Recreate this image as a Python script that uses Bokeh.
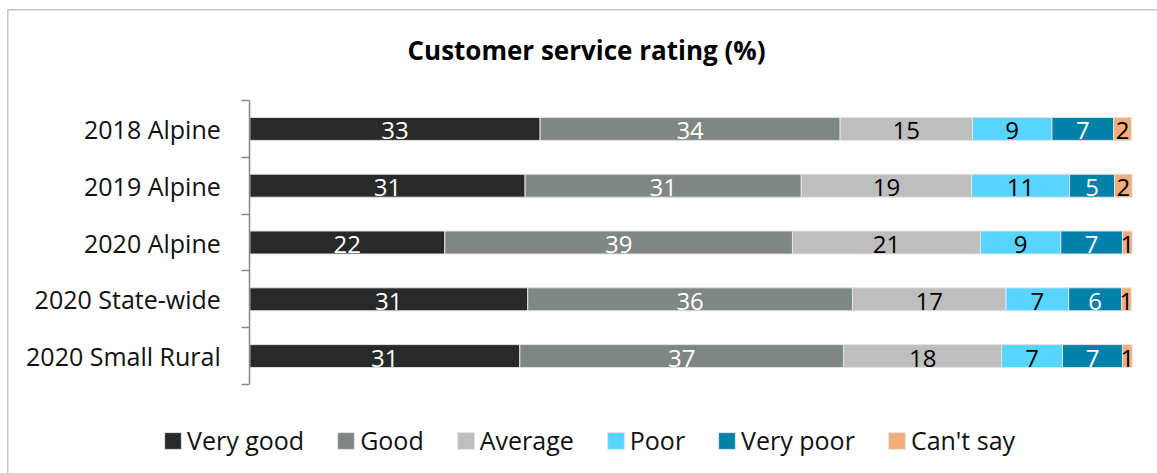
from bokeh.plotting import figure
from bokeh.models import (ColumnDataSource, Range1d, FixedTicker, Legend, LegendItem, Label, Span)
from bokeh.core.properties import value
from bokeh.embed import file_html
from bokeh.resources import INLINE

categories = ["2018 Alpine", "2019 Alpine", "2020 Alpine", "2020 State-wide", "2020 Small Rural"]
series_names = ["Very good", "Good", "Average", "Poor", "Very poor", "Can't say"]

# bar lengths (%) as drawn
very_good = [32.9, 31.2, 22.1, 31.5, 30.6]
good = [34.0, 31.3, 39.4, 36.8, 36.7]
average = [15.0, 19.3, 21.3, 17.4, 17.9]
poor = [9.0, 11.1, 9.1, 7.1, 6.9]
very_poor = [7.0, 5.1, 7.0, 6.0, 6.8]
cant_say = [2.0, 2.0, 1.1, 1.1, 1.1]

# numbers printed on the bars
very_good_lbl = [33, 31, 22, 31, 31]
good_lbl = [34, 31, 39, 36, 37]
average_lbl = [15, 19, 21, 17, 18]
poor_lbl = [9, 11, 9, 7, 7]
very_poor_lbl = [7, 5, 7, 6, 7]
cant_say_lbl = [2, 2, 1, 1, 1]

colors = ["#282a29", "#7f8784", "#bebebe", "#57d4ff", "#0081a9", "#f3ad7b"]
label_colors = ["white", "white", "black", "black", "white", "black"]

series = [very_good, good, average, poor, very_poor, cant_say]
series_lbl = [very_good_lbl, good_lbl, average_lbl, poor_lbl, very_poor_lbl, cant_say_lbl]
keys = ["vg", "g", "a", "p", "vp", "cs"]

FONT = "Open Sans"
W, H = 1157, 473
FRAME_L, FRAME_T = 7, 9          # chart border (px)
AX_X0, AX_X100 = 249.3, 1131.7   # px of 0% and 100%
AX_Y0, AX_Y1 = 100, 384          # px of top / bottom of the category axis

n = len(categories)
px_per_x = (AX_X100 - AX_X0) / 100
px_per_y = (AX_Y1 - AX_Y0) / n
x_start = (FRAME_L - AX_X0) / px_per_x
x_end = (W - AX_X0) / px_per_x
y_top = (FRAME_T - AX_Y0) / px_per_y
y_bottom = n + (H - AX_Y1) / px_per_y

ypos = [i + 0.5 for i in range(n)]
data = {"y": ypos}
for k, s in zip(keys, series):
    data[k] = s
source = ColumnDataSource(data)

p = figure(width=W, height=H, output_backend="svg", toolbar_location=None,
           x_range=Range1d(x_start, x_end), y_range=Range1d(y_bottom, y_top),
           x_axis_location=None, min_border_left=FRAME_L, min_border_right=0,
           min_border_top=FRAME_T, min_border_bottom=0)
p.xgrid.visible = False
p.ygrid.visible = False
p.outline_line_color = None
p.background_fill_color = "white"
p.border_fill_color = "white"

renderers = p.hbar_stack(keys, y="y", height=0.405, color=colors, source=source,
                         line_color="#e4e4e4", line_width=1)

# value labels
for j, (s, lbl) in enumerate(zip(series, series_lbl)):
    xs, ys, ts = [], [], []
    for i in range(n):
        left = sum(series[k][i] for k in range(j))
        xs.append(left + s[i] / 2)
        ys.append(ypos[i])
        ts.append(str(lbl[i]))
    p.text(x=xs, y=ys, text=ts, text_align="center", text_baseline="middle",
           text_color=label_colors[j], text_font=value(FONT), text_font_size="24px",
           y_offset=2)

yaxis = p.yaxis[0]
yaxis.fixed_location = 0
yaxis.bounds = (0, n)
yaxis.ticker = FixedTicker(ticks=ypos, minor_ticks=list(range(n + 1)))
yaxis.major_label_overrides = {y: c for y, c in zip(ypos, categories)}
yaxis.major_tick_out = 0
yaxis.major_tick_in = 0
yaxis.minor_tick_out = 8
yaxis.minor_tick_in = 0
yaxis.minor_tick_line_color = "#888888"
yaxis.minor_tick_line_width = 1.5
yaxis.axis_line_color = "#888888"
yaxis.axis_line_width = 1.5
yaxis.major_label_standoff = 21
yaxis.major_label_text_font = FONT
yaxis.major_label_text_font_size = "25px"
yaxis.major_label_text_color = "#111111"

# chart border (left and top edges)
p.add_layout(Span(location=x_start, dimension="height", line_color="#8a8a8a", line_width=1.5))
p.add_layout(Span(location=y_top, dimension="width", line_color="#8a8a8a", line_width=1.5))

# title
p.add_layout(Label(x=(586 - AX_X0) / px_per_x, y=(49 - AX_Y0) / px_per_y,
                   text="Customer service rating (%)", text_align="center",
                   text_baseline="alphabetic", text_font=FONT, text_font_size="26px",
                   text_font_style="bold", text_color="black"))

legend = Legend(items=[LegendItem(label=nm, renderers=[r]) for nm, r in zip(series_names, renderers)],
                orientation="horizontal", location=(162 - FRAME_L, 16), glyph_width=21, glyph_height=21,
                label_standoff=4, spacing=31, padding=0, margin=0,
                label_text_font=FONT, label_text_font_size="25px", label_text_color="#111111",
                background_fill_alpha=0, border_line_color=None)
p.add_layout(legend, "center")

open("out.html", "w").write(file_html(p, INLINE))
